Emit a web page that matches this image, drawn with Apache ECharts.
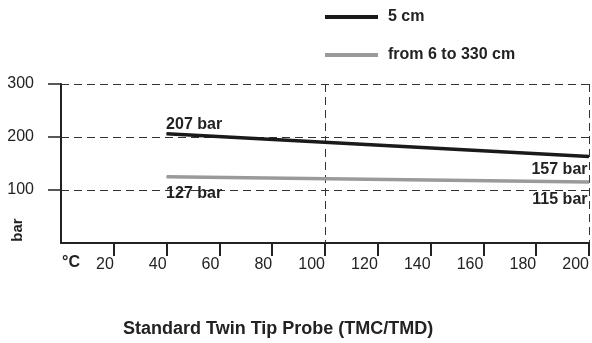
<!DOCTYPE html>
<html>
<head>
<meta charset="utf-8">
<script src="https://cdn.jsdelivr.net/npm/echarts@6/dist/echarts.min.js"></script>
<style>
html,body{margin:0;padding:0;background:#fff;}
#main{width:592px;height:343px;}
</style>
</head>
<body>
<div id="main"></div>
<script>
// data
var temps = [40, 200];
var probe5 = [206, 163];
var probeLong = [125, 115];
var labels5 = ['207 bar', '157 bar'];
var labelsLong = ['127 bar', '115 bar'];
var xTicks = [20, 40, 60, 80, 100, 120, 140, 160, 180, 200];
var yTicks = [100, 200, 300];
var names = ['5 cm', 'from 6 to 330 cm'];

var FONT = '"Liberation Sans", Arial, sans-serif';
var INK = '#222';

function pts(vals, labs, pos) {
  return vals.map(function (v, i) {
    return {
      value: [temps[i], v],
      label: {
        show: true,
        formatter: labs[i],
        position: pos[i],
        align: i === 0 ? 'left' : 'right',
        verticalAlign: 'middle',
        fontFamily: FONT, fontSize: 16, fontWeight: 'bold', color: INK
      }
    };
  });
}

var myChart = echarts.init(document.getElementById('main'));
var option = {
  animation: false,
  grid: { left: 61, right: 1, top: 84, bottom: 100 },
  legend: {
    orient: 'vertical',
    left: 320, top: 3,
    icon: 'rect',
    itemWidth: 53, itemHeight: 4,
    itemGap: 20,
    textStyle: { fontFamily: FONT, fontSize: 16, fontWeight: 'bold', color: INK, lineHeight: 18, padding: [0, 0, 0, 5] },
    data: names
  },
  title: {
    text: 'Standard Twin Tip Probe (TMC/TMD)',
    left: 118, top: 315,
    textStyle: { fontFamily: FONT, fontSize: 18, fontWeight: 'bold', color: INK }
  },
  xAxis: [
    {
      type: 'value', min: 0, max: 200,
      axisLine: { show: true, lineStyle: { color: INK, width: 2 } },
      axisTick: { show: true, customValues: xTicks, length: 13, lineStyle: { color: INK, width: 2 } },
      axisLabel: { customValues: xTicks, align: 'right', margin: 14, fontFamily: FONT, fontSize: 16, color: INK },
      splitLine: { show: false }
    },
    {
      // only used for the dashed verticals at 100 and 200
      type: 'value', min: 0, max: 200, interval: 100, position: 'bottom',
      axisLine: { show: false }, axisTick: { show: false }, axisLabel: { show: false },
      splitLine: { show: true, lineStyle: { color: '#333', width: 1, type: [8, 5] } }
    }
  ],
  yAxis: {
    type: 'value', min: 0, max: 300, interval: 100,
    axisLine: { show: true, lineStyle: { color: INK, width: 2 } },
    axisTick: { show: true, customValues: yTicks, length: 13, lineStyle: { color: INK, width: 1.5 } },
    axisLabel: { customValues: yTicks, margin: 27, padding: [0, 0, 10, 0], fontFamily: FONT, fontSize: 16, color: INK },
    splitLine: { show: true, lineStyle: { color: '#333', width: 1, type: [8, 5] } }
  },
  graphic: [
    { type: 'text', left: 62, top: 255, style: { text: '°C', font: 'bold 16px ' + FONT, fill: INK } },
    { type: 'text', x: 18, y: 230, rotation: Math.PI / 2,
      style: { text: 'bar', font: 'bold 15px ' + FONT, fill: INK, align: 'center', verticalAlign: 'middle' } }
  ],
  series: [
    {
      name: names[0], type: 'line', symbol: 'circle', symbolSize: 1,
      lineStyle: { color: '#1a1a1a', width: 3.5 }, itemStyle: { color: '#1a1a1a' },
      data: pts(probe5, labels5, [[0, -9], [-1, 13]]),
      z: 5
    },
    {
      name: names[1], type: 'line', symbol: 'circle', symbolSize: 1,
      lineStyle: { color: '#9a9a9a', width: 3.5 }, itemStyle: { color: '#9a9a9a' },
      data: pts(probeLong, labelsLong, [[0, 17], [-1, 18]]),
      z: 4
    }
  ]
};
myChart.setOption(option);
</script>
</body>
</html>
